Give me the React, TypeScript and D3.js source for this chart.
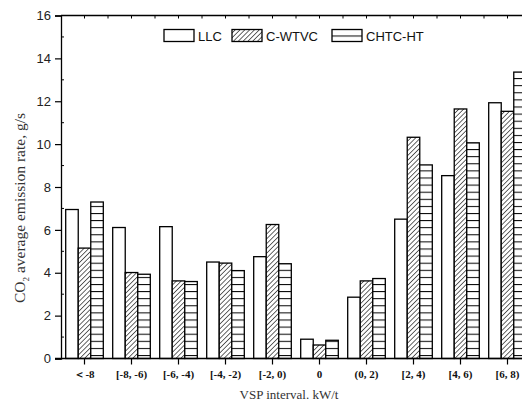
import * as d3 from 'd3'
import { useEffect, useRef } from 'react'

// VSP interval categories
const categories = ['＜-8', '[-8, -6)', '[-6, -4)', '[-4, -2)', '[-2, 0)', '0', '(0, 2)', '[2, 4)', '[4, 6)', '[6, 8)']
const seriesNames = ['LLC', 'C-WTVC', 'CHTC-HT']

// CO2 average emission rate, g/s
const llc = [6.95, 6.11, 6.15, 4.5, 4.75, 0.9, 2.86, 6.5, 8.53, 11.93]
const cwtvc = [5.15, 4.01, 3.62, 4.45, 6.25, 0.63, 3.62, 10.32, 11.64, 11.53]
const chtcht = [7.3, 3.93, 3.59, 4.1, 4.42, 0.85, 3.73, 9.03, 10.06, 13.36]

const yTicks = [0, 2, 4, 6, 8, 10, 12, 14, 16]

export default function App() {
    const svgRef = useRef<SVGSVGElement>(null)

    useEffect(() => {
        const w = 522
        const h = 405
        const left = 61
        const right = 531
        const top = 15.5
        const bottom = 358.5

        const svg = d3.select(svgRef.current)
        svg.selectAll('*').remove()
        svg.attr('width', w).attr('height', h)

        const defs = svg.append('defs')
        const diag = defs.append('pattern')
            .attr('id', 'diag')
            .attr('patternUnits', 'userSpaceOnUse')
            .attr('width', 3.4)
            .attr('height', 3.4)
            .attr('patternTransform', 'rotate(45)')
        diag.append('rect').attr('width', 3.4).attr('height', 3.4).attr('fill', 'white')
        diag.append('line')
            .attr('x1', 0).attr('y1', 0).attr('x2', 0).attr('y2', 3.4)
            .attr('stroke', 'black').attr('stroke-width', 1.2)

        const horiz = defs.append('pattern')
            .attr('id', 'horiz')
            .attr('patternUnits', 'userSpaceOnUse')
            .attr('width', 8)
            .attr('height', 7.1)
        horiz.append('rect').attr('width', 8).attr('height', 7.1).attr('fill', 'white')
        horiz.append('line')
            .attr('x1', 0).attr('y1', 0.5).attr('x2', 8).attr('y2', 0.5)
            .attr('stroke', 'black').attr('stroke-width', 1)

        const fills = ['white', 'url(#diag)', 'url(#horiz)']

        const xScale = d3.scaleBand<string>()
            .domain(categories)
            .range([left, right])
            .paddingInner(0.2)
            .paddingOuter(0.1)

        const xSub = d3.scaleBand<string>()
            .domain(seriesNames)
            .range([0, xScale.bandwidth()])

        const yScale = d3.scaleLinear()
            .domain([0, 16])
            .range([bottom, top])

        const series = [llc, cwtvc, chtcht]

        // bars
        series.forEach((vals, s) => {
            svg.append('g')
                .selectAll('rect')
                .data(vals)
                .join('rect')
                .attr('x', (d, i) => (xScale(categories[i]) ?? 0) + (xSub(seriesNames[s]) ?? 0))
                .attr('y', d => yScale(d))
                .attr('width', xSub.bandwidth())
                .attr('height', d => yScale(0) - yScale(d))
                .attr('fill', fills[s])
                .attr('stroke', 'black')
                .attr('stroke-width', 1.3)
        })

        // frame line on top
        svg.append('line')
            .attr('x1', left).attr('x2', right).attr('y1', top).attr('y2', top)
            .attr('stroke', 'black').attr('stroke-width', 1.3)

        // left axis
        const yAxis = d3.axisLeft(yScale)
            .tickValues(yTicks)
            .tickSize(6)
            .tickPadding(4)
            .tickFormat(d3.format('d'))
        const gy = svg.append('g')
            .attr('transform', `translate(${left},0)`)
            .call(yAxis)
        gy.select('.domain').attr('stroke-width', 1.3)
        gy.selectAll('.tick line').attr('stroke-width', 1.2)
        gy.selectAll('.tick text')
            .attr('font-family', 'Liberation Sans, Arial, sans-serif')
            .attr('font-size', 13)
            .attr('fill', '#222')

        // minor y ticks (inward)
        svg.append('g')
            .selectAll('line')
            .data(d3.range(1, 16, 2))
            .join('line')
            .attr('x1', left).attr('x2', left + 3)
            .attr('y1', d => yScale(d)).attr('y2', d => yScale(d))
            .attr('stroke', 'black').attr('stroke-width', 1)

        // bottom axis
        const xAxis = d3.axisBottom(xScale)
            .tickSize(6)
            .tickPadding(6)
            .tickSizeOuter(0)
        const gx = svg.append('g')
            .attr('transform', `translate(0,${bottom})`)
            .call(xAxis)
        gx.select('.domain').attr('d', `M${left - 6},0H${right}`).attr('stroke-width', 1.3)
        gx.selectAll('.tick line').attr('stroke-width', 1.2)
        gx.selectAll('.tick text')
            .attr('font-family', 'Liberation Serif, Times New Roman, serif')
            .attr('font-weight', 'bold')
            .attr('font-size', 11)
            .attr('fill', '#111')

        // top axis ticks (inward, at centers and between)
        const topTicks = categories.flatMap((c) => {
            const cx = (xScale(c) ?? 0) + xScale.bandwidth() / 2
            return [cx, cx + xScale.step() / 2]
        })
        svg.append('g')
            .selectAll('line')
            .data(topTicks)
            .join('line')
            .attr('x1', d => d).attr('x2', d => d)
            .attr('y1', top).attr('y2', top + 3)
            .attr('stroke', 'black').attr('stroke-width', 1)

        // legend
        const legendX = [164, 232, 332]
        const lg = svg.append('g')
        seriesNames.forEach((name, i) => {
            lg.append('rect')
                .attr('x', legendX[i]).attr('y', 29.5)
                .attr('width', 30).attr('height', 12)
                .attr('fill', fills[i])
                .attr('stroke', 'black')
                .attr('stroke-width', 1.3)
            lg.append('text')
                .attr('x', legendX[i] + 34)
                .attr('y', 40.5)
                .attr('font-family', 'Liberation Sans, Arial, sans-serif')
                .attr('font-size', 13)
                .attr('fill', '#111')
                .text(name)
        })

        // axis titles
        svg.append('text')
            .attr('x', 289)
            .attr('y', 399)
            .attr('text-anchor', 'middle')
            .attr('font-family', 'Liberation Serif, Times New Roman, serif')
            .attr('font-size', 13)
            .attr('fill', '#333')
            .text('VSP interval. kW/t')

        const yt = svg.append('text')
            .attr('transform', 'translate(25,208) rotate(-90)')
            .attr('text-anchor', 'middle')
            .attr('font-family', 'Liberation Serif, Times New Roman, serif')
            .attr('font-size', 15.5)
            .attr('fill', '#333')
        yt.append('tspan').text('CO')
        yt.append('tspan').attr('font-size', 9).attr('dy', 4).text('2')
        yt.append('tspan').attr('dy', -4).text(' average emission rate, g/s')
    }, [])

    return (
        <svg ref={svgRef} style={{ position: 'absolute', left: 0, top: 0, background: 'white' }} />
    )
}
